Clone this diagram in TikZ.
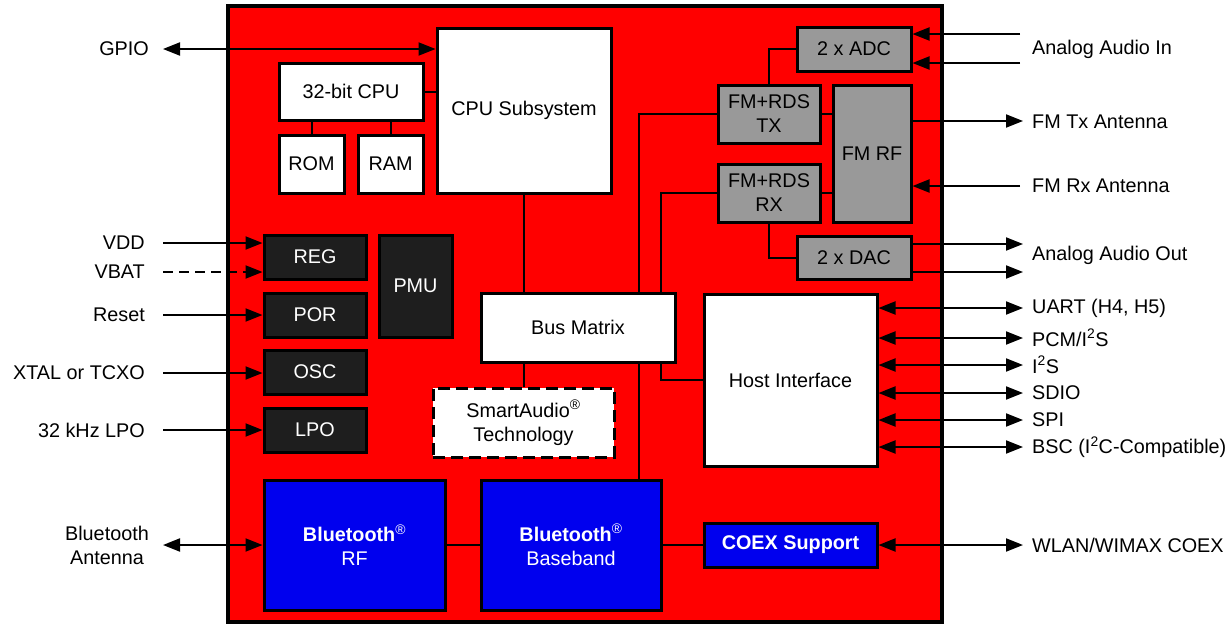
\documentclass[tikz,border=0pt]{standalone}
\usepackage{fontspec}
\setmainfont{Liberation Sans}
\usepackage{tikz}
\usetikzlibrary{arrows.meta,positioning}

\definecolor{chipred}{HTML}{FF0000}
\definecolor{fmgray}{HTML}{999999}
\definecolor{pwrdark}{HTML}{1E1E1E}
\definecolor{btblue}{HTML}{0000EE}

\tikzset{
  blk/.style={draw=black, line width=3pt, align=center, inner sep=0pt},
  whiteblk/.style={blk, fill=white},
  grayblk/.style={blk, fill=fmgray},
  darkblk/.style={blk, fill=pwrdark, text=white},
  blueblk/.style={blk, fill=btblue, text=white},
  wire/.style={line width=2pt},
  sig/.style={wire, -{Triangle[length=17pt,width=13pt]}},
  bisig/.style={wire, {Triangle[length=17pt,width=13pt]}-{Triangle[length=17pt,width=13pt]}},
  lbl/.style={anchor=west, inner sep=0pt},
  rlbl/.style={anchor=east, inner sep=0pt, align=center}
}

\begin{document}
\begin{tikzpicture}[x=1pt, y=-1pt, font=\fontsize{19.8}{24}\selectfont]

\useasboundingbox (0,0) rectangle (1232,625);

\node[draw=black, fill=chipred, line width=4pt, minimum width=714pt,
    minimum height=616pt] (chip) at (585,314) {};

\node[whiteblk, minimum width=174pt, minimum height=165pt] (cpusub) at (524,110.5) {CPU Subsystem};
\node[whiteblk, minimum width=144pt, minimum height=57pt] (cpu) at (351,91.5) {32-bit CPU};
\node[whiteblk, minimum width=65pt, minimum height=58pt] (rom) at (311.5,164) {ROM};
\node[whiteblk, minimum width=65pt, minimum height=58pt] (ram) at (390.5,164) {RAM};

\node[grayblk, minimum width=114pt, minimum height=44pt] (adc) at (854,49) {2 x ADC};
\node[grayblk, minimum width=102pt, minimum height=58pt] (fmtx) at (769,114) {FM+RDS\\TX};
\node[grayblk, minimum width=78pt, minimum height=137pt] (fmrf) at (872,153.5) {FM RF};
\node[grayblk, minimum width=102pt, minimum height=58pt] (fmrx) at (769,193) {FM+RDS\\RX};
\node[grayblk, minimum width=114pt, minimum height=43pt] (dac) at (854,257.5) {2 x DAC};

\node[darkblk, minimum width=102pt, minimum height=44pt] (reg) at (315,257) {REG};
\node[darkblk, minimum width=102pt, minimum height=44pt] (por) at (315,315) {POR};
\node[darkblk, minimum width=102pt, minimum height=44pt] (osc) at (315,372) {OSC};
\node[darkblk, minimum width=102pt, minimum height=44pt] (lpo) at (315,430) {LPO};
\node[darkblk, minimum width=73pt, minimum height=102pt] (pmu) at (415.5,286) {PMU};

\node[whiteblk, minimum width=194pt, minimum height=69pt] (bus) at (578,327.5) {Bus Matrix};
\node[whiteblk, dash pattern=on 12pt off 6pt, minimum width=181pt,
    minimum height=69pt] (smart) at (523.5,422.5) {SmartAudio\textsuperscript{\textregistered}\\Technology};
\node[whiteblk, minimum width=173pt, minimum height=172pt] (host) at (790.5,380) {Host Interface};

\node[blueblk, minimum width=181pt, minimum height=130pt] (btrf) at (354.5,545)
    {\textbf{Bluetooth}\textsuperscript{\textregistered}\\RF};
\node[blueblk, minimum width=180pt, minimum height=130pt] (btbb) at (571,545)
    {\textbf{Bluetooth}\textsuperscript{\textregistered}\\Baseband};
\node[blueblk, minimum width=173pt, minimum height=44pt] (coex) at (790.5,545) {\textbf{COEX Support}};

\draw[wire] (cpu.east) -- (cpu.east -| cpusub.west);
\draw[wire] (rom.north) -- (rom.north |- cpu.south);
\draw[wire] (ram.north) -- (ram.north |- cpu.south);
\draw[wire] (cpusub.south) -- (cpusub.south |- bus.north);
\draw[wire] (cpusub.south |- bus.south) -- (cpusub.south |- smart.north);

\draw[wire] (adc.west) -| (fmtx.north);
\draw[wire] (fmtx.east) -- (fmtx.east -| fmrf.west);
\draw[wire] (fmrx.east) -- (fmrx.east -| fmrf.west);
\draw[wire] (fmrx.south) |- (dac.west);

\draw[wire] (fmtx.west) -| ([xshift=61pt]bus.north);
\draw[wire] (fmrx.west) -| ([xshift=83pt]bus.north);
\draw[wire] ([xshift=61pt]bus.south) -- ([xshift=61pt]bus.south |- btbb.north);
\draw[wire] ([xshift=83pt]bus.south) |- (host.west);

\draw[wire] (btrf.east) -- (btbb.west);
\draw[wire] (btbb.east) -- (coex.west);

\node[rlbl] (gpiol) at (149,49) {GPIO};
\coordinate (gpio) at (163,49);
\draw[bisig] (gpio) -- (gpio -| cpusub.west);

\node[rlbl] (vddl) at (145,243) {VDD};
\coordinate (vdd) at (163,243);
\draw[sig] (vdd) -- (vdd -| reg.west);

\node[rlbl] (vbatl) at (145,272) {VBAT};
\coordinate (vbat) at (163,272);
\draw[sig, dash pattern=on 10pt off 6pt] (vbat) -- (vbat -| reg.west);

\node[rlbl] (resetl) at (145,315) {Reset};
\coordinate (reset) at (163,315);
\draw[sig] (reset) -- (reset -| por.west);

\node[rlbl] (xtall) at (145,373) {XTAL or TCXO};
\coordinate (xtal) at (163,373);
\draw[sig] (xtal) -- (xtal -| osc.west);

\node[rlbl] (lpol) at (145,430) {32 kHz LPO};
\coordinate (lpoin) at (163,430);
\draw[sig] (lpoin) -- (lpoin -| lpo.west);

\node[rlbl] (btantl) at (149,545) {Bluetooth\\Antenna};
\coordinate (btant) at (163,545);
\draw[bisig] (btant) -- (btrf.west);

\node[lbl] (ainl) at (1032,49) {Analog Audio In};
\coordinate (ain1) at (1020,34);
\coordinate (ain2) at (1020,63);
\draw[sig] (ain1) -- (ain1 -| adc.east);
\draw[sig] (ain2) -- (ain2 -| adc.east);

\node[lbl] (fmtxl) at (1032,122) {FM Tx Antenna};
\coordinate (fmtxant) at (1023,121);
\draw[sig] (fmtxant -| fmrf.east) -- (fmtxant);

\node[lbl] (fmrxl) at (1032,186) {FM Rx Antenna};
\coordinate (fmrxant) at (1020,186);
\draw[sig] (fmrxant) -- (fmrxant -| fmrf.east);

\node[lbl] (aoutl) at (1032,255) {Analog Audio Out};
\coordinate (aout1) at (1023,244);
\coordinate (aout2) at (1023,272);
\draw[sig] (aout1 -| dac.east) -- (aout1);
\draw[sig] (aout2 -| dac.east) -- (aout2);

\node[lbl] (uartl) at (1032,308) {UART (H4, H5)};
\coordinate (uart) at (1023,308);
\draw[bisig] (uart -| host.east) -- (uart);

\node[lbl] (pcml) at (1032,338) {PCM/I\textsuperscript{2}S};
\coordinate (pcm) at (1023,338);
\draw[bisig] (pcm -| host.east) -- (pcm);

\node[lbl] (i2sl) at (1032,365) {I\textsuperscript{2}S};
\coordinate (i2s) at (1023,365);
\draw[bisig] (i2s -| host.east) -- (i2s);

\node[lbl] (sdiol) at (1032,393) {SDIO};
\coordinate (sdio) at (1023,393);
\draw[bisig] (sdio -| host.east) -- (sdio);

\node[lbl] (spil) at (1032,420) {SPI};
\coordinate (spi) at (1023,420);
\draw[bisig] (spi -| host.east) -- (spi);

\node[lbl] (bscl) at (1032,447) {BSC (I\textsuperscript{2}C-Compatible)};
\coordinate (bsc) at (1023,447);
\draw[bisig] (bsc -| host.east) -- (bsc);

\node[lbl] (wlanl) at (1032,545) {WLAN/WIMAX COEX};
\coordinate (wlan) at (1023,545);
\draw[bisig] (coex.east) -- (wlan);

\end{tikzpicture}
\end{document}
